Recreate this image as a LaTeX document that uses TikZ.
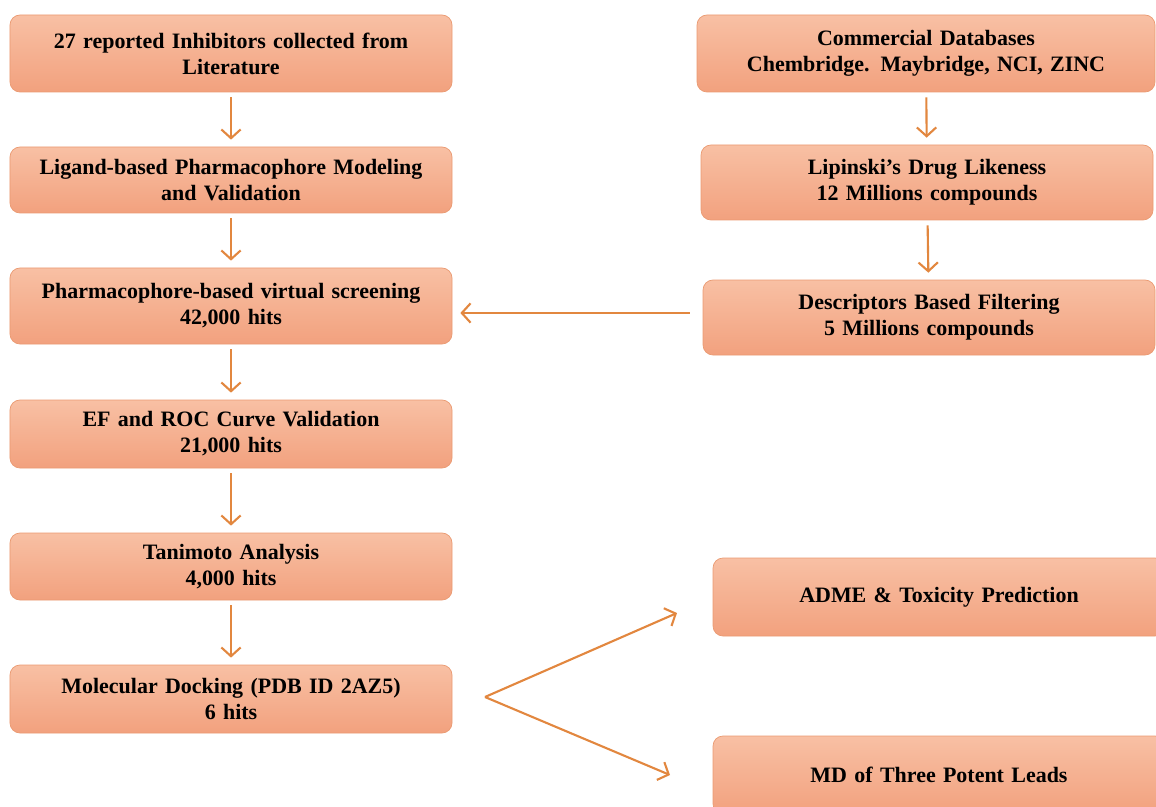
\documentclass[tikz,border=0pt]{standalone}
\usepackage{fontspec}
\setmainfont{Liberation Serif}
\usetikzlibrary{arrows.meta}

\definecolor{boxtop}{HTML}{F8C0A4}
\definecolor{boxbot}{HTML}{F2A17E}
\definecolor{boxline}{HTML}{EA9A72}
\definecolor{arr}{HTML}{E2873F}

\begin{document}
\begin{tikzpicture}[
  box/.style={draw=boxline, thin, rounded corners=0.2cm, top color=boxtop, bottom color=boxbot,
    minimum width=8.84cm, text width=8.6cm, align=center,
    font=\fontsize{12.5}{14.8}\selectfont\bfseries, inner sep=2pt},
  flow/.style={draw=arr, line width=1.2pt, -{Straight Barb[length=5pt,width=11pt]}}]
\clip (0,0) rectangle (23.12,-16.14);

% left column
\node[box, minimum height=1.54cm] (lit) at (4.62,-1.07) {27 reported Inhibitors collected from\\Literature};
\node[box, minimum height=1.32cm] (pharm) at (4.62,-3.6) {Ligand-based Pharmacophore Modeling\\and Validation};
\node[box, minimum height=1.52cm] (vs) at (4.62,-6.12) {Pharmacophore-based virtual screening\\42,000 hits};
\node[box, minimum height=1.36cm] (roc) at (4.62,-8.68) {EF and ROC Curve Validation\\21,000 hits};
\node[box, minimum height=1.34cm] (tani) at (4.62,-11.33) {Tanimoto Analysis\\4,000 hits};
\node[box, minimum height=1.36cm] (dock) at (4.62,-13.98) {Molecular Docking (PDB ID 2AZ5)\\6 hits};

% right column
\node[box, minimum width=9.16cm, minimum height=1.54cm] (db) at (18.52,-1.07) {Commercial Databases\\Chembridge. Maybridge, NCI, ZINC};
\node[box, minimum width=9.04cm, minimum height=1.5cm] (lip) at (18.54,-3.65) {Lipinski’s Drug Likeness\\12 Millions compounds};
\node[box, minimum width=9.04cm, minimum height=1.5cm] (desc) at (18.58,-6.35) {Descriptors Based Filtering\\5 Millions compounds};
\node[box, minimum width=9.04cm, minimum height=1.56cm] (adme) at (18.78,-11.94) {ADME \& Toxicity Prediction};
\node[box, minimum width=9.04cm, minimum height=1.56cm] (md) at (18.78,-15.5) {MD of Three Potent Leads};

\coordinate (fork) at (9.7,-13.94);
\coordinate (toadme) at (13.54,-12.26);
\coordinate (tomd) at (13.4,-15.5);
\coordinate (feed) at ([yshift=0.09cm]desc.west);

\foreach \a/\b in {lit/pharm, pharm/vs, vs/roc, roc/tani, tani/dock, db/lip, lip/desc}
  \draw[flow, shorten <=0.1cm, shorten >=0.14cm] (\a) -- (\b);
\draw[flow, shorten <=0.26cm, shorten >=0.16cm] (feed) -- (vs.east |- feed);
\draw[flow] (fork) -- (toadme);
\draw[flow] (fork) -- (tomd);
\end{tikzpicture}
\end{document}
